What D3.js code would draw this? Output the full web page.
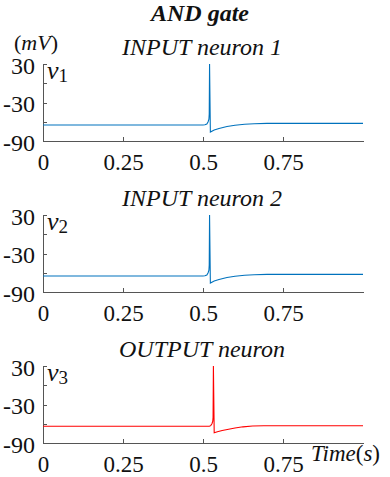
<!DOCTYPE html>
<html lang="en">
    <head>
        <meta charset="utf-8">
        <title>AND gate</title>
        <script type="text/javascript" src="https://d3js.org/d3.v7.min.js"></script>
        <style type="text/css">
          body { margin: 0; background: white; }
          .axis path,
          .axis line {
              fill: none;
              stroke: #555;
              shape-rendering: crispEdges;
          }
        </style>
    </head>
    <body>
        <script type="text/javascript">
          var w = 390;
          var h = 477;
          var serif = "'Liberation Serif'";

          // panel titles and tick labels
          var panelTitles = ["INPUT neuron 1", "INPUT neuron 2", "OUTPUT neuron"];
          var panelVars = ["1", "2", "3"];
          var xTicks = [0, 0.25, 0.5, 0.75];
          var yTicks = [30, 0, -30, -60, -90];
          var yLabelled = [30, -30, -90];

          // membrane potential (mV) vs time (s)
          var timeIn1 = [0, 0.5, 0.506, 0.512, 0.516, 0.5185, 0.5195, 0.5205, 0.523, 0.535, 0.55, 0.575, 0.6, 0.63, 0.66, 0.7, 1.0];
          var voltIn1 = [-65, -65, -64.8, -63.5, -60, -56, -48, 30, -76, -73, -70.5, -67.5, -65.5, -63.8, -63, -62.6, -62.6];

          var timeIn2 = [0, 0.5, 0.506, 0.512, 0.516, 0.5185, 0.5195, 0.5205, 0.523, 0.535, 0.55, 0.575, 0.6, 0.63, 0.66, 0.7, 1.0];
          var voltIn2 = [-65, -65, -64.8, -63.5, -60, -56, -48, 30, -76, -73, -70.5, -67.5, -65.5, -63.8, -63, -62.6, -62.6];

          var timeOut = [0, 0.52, 0.524, 0.528, 0.5305, 0.5315, 0.5325, 0.535, 0.545, 0.56, 0.58, 0.6, 0.625, 0.655, 0.69, 1.0];
          var voltOut = [-64, -64, -63, -60, -56, -50, 30, -74, -72.5, -70.5, -68.5, -66.5, -64.8, -63.5, -63, -63];

          var series = [
            {t: timeIn1, v: voltIn1, color: "#0072BD"},
            {t: timeIn2, v: voltIn2, color: "#0072BD"},
            {t: timeOut, v: voltOut, color: "#ff0000"}
          ];

          var marginLeft = 43;
          var plotWidth = 320;
          var plotHeight = 77;
          var panelTops = [64, 215, 366];

          var svg = d3.select("body").append("svg").attr("width", w).attr("height", h);

          var xScale = d3.scaleLinear().domain([0, 1]).range([marginLeft, marginLeft + plotWidth]);

          // main title
          svg.append("text")
             .attr("x", 200).attr("y", 21)
             .attr("text-anchor", "middle")
             .style("font-family", serif)
             .style("font-size", "24px")
             .style("font-weight", "bold")
             .style("font-style", "italic")
             .style("fill", "#111")
             .text("AND gate");

          // unit label
          svg.append("text")
             .attr("x", 14).attr("y", 50)
             .style("font-family", serif)
             .style("font-size", "22px")
             .style("fill", "#111")
             .html("(<tspan font-style='italic'>mV</tspan>)");

          panelTops.forEach(function(top, i){
            var yScale = d3.scaleLinear().domain([-90, 30]).range([top + plotHeight, top]);
            var g = svg.append("g");

            svg.append("defs").append("clipPath")
               .attr("id", "clip" + i)
               .append("rect")
               .attr("x", marginLeft).attr("y", top - 1)
               .attr("width", plotWidth).attr("height", plotHeight + 1);

            // subtitle
            g.append("text")
             .attr("x", 202).attr("y", top - 9)
             .attr("text-anchor", "middle")
             .style("font-family", serif)
             .style("font-size", "24px")
             .style("font-style", "italic")
             .style("fill", "#111")
             .text(panelTitles[i]);

            var yAxis = d3.axisLeft(yScale)
                          .tickValues(yTicks)
                          .tickSizeInner(-4)
                          .tickSizeOuter(0)
                          .tickPadding(8)
                          .tickFormat(function(d){ return yLabelled.indexOf(d) >= 0 ? String(d) : ""; });
            var xAxis = d3.axisBottom(xScale)
                          .tickValues(xTicks)
                          .tickSizeInner(-4)
                          .tickSizeOuter(0)
                          .tickPadding(13)
                          .tickFormat(function(d){ return String(d); });

            g.append("g")
             .attr("class", "axis")
             .attr("transform", "translate(" + marginLeft + ",0)")
             .call(yAxis)
             .selectAll("text")
             .attr("dy", "0.38em")
             .style("font-family", serif)
             .style("font-size", "24px")
             .style("fill", "#111");

            g.append("g")
             .attr("class", "axis")
             .attr("transform", "translate(0," + (top + plotHeight) + ")")
             .call(xAxis)
             .selectAll("text")
             .style("font-family", serif)
             .style("font-size", "23px")
             .style("fill", "#111");

            // variable label v_i
            var vl = g.append("text")
                      .attr("x", 47).attr("y", top + 15)
                      .style("font-family", serif)
                      .style("font-size", "26px")
                      .style("fill", "#111");
            vl.append("tspan").style("font-style", "italic").text("v");
            vl.append("tspan").attr("dy", 3).style("font-size", "19px").text(panelVars[i]);

            var s = series[i];
            var line = d3.line()
                         .x(function(d, j){ return xScale(s.t[j]); })
                         .y(function(d){ return yScale(d); });

            g.append("path")
             .attr("clip-path", "url(#clip" + i + ")")
             .attr("d", line(s.v))
             .attr("fill", "none")
             .attr("stroke", s.color)
             .attr("stroke-width", 1.1);
          });

          // time axis label
          var tl = svg.append("text")
                      .attr("x", 311).attr("y", 461)
                      .style("font-family", serif)
                      .style("font-size", "23px")
                      .style("fill", "#111");
          tl.append("tspan").style("font-style", "italic").text("Time");
          tl.append("tspan").text("(");
          tl.append("tspan").style("font-style", "italic").text("s");
          tl.append("tspan").text(")");
        </script>
    </body>
</html>
